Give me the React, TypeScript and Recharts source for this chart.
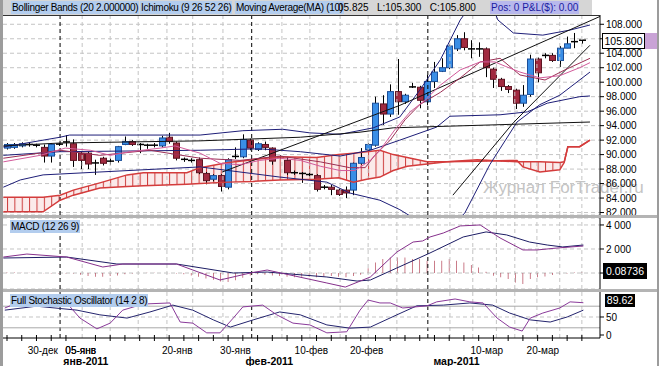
import React from "react";
import { Area, Bar, CartesianGrid, ComposedChart, Line, ReferenceLine, XAxis, YAxis } from "recharts";

const FONT = "'Liberation Sans', Arial, sans-serif";
const NAVY = "#1e1e78";
const GRID = "#c4c4c4";
const X_DOMAIN: [number, number] = [-0.543, 80.46];

// daily candles, index 0 .. 78
const OPEN = [
  90.9, 91.0, 91.2, 91.4, 91.3, 91.0, 89.8, 91.45, 91.7, 91.5,
  90.2, 90.2, 88.85, 89.5, 89.1, 89.2, 91.4, 91.8, 91.4, 91.3,
  91.3, 91.2, 92.4, 91.6, 89.35, 89.2, 89.3, 87.4, 86.6, 87.1,
  85.5, 89.7, 89.7, 92.0, 90.7, 91.4, 90.9, 89.7, 89.2, 87.5,
  87.4, 87.25, 87.1, 85.5, 85.5, 85.1, 85.1, 85.1, 88.8, 90.7,
  91.3, 97.0, 95.6, 98.7, 97.3, 99.3, 99.3, 97.3, 100.1, 101.5,
  102.0, 104.6, 106.0, 104.6, 104.6, 104.6, 101.8, 100.4, 99.4, 98.9,
  97.1, 98.3, 103.2, 103.7, 103.7, 103.0, 104.7, 105.6, 105.6,
];
const HIGH = [
  91.6, 91.6, 91.7, 91.6, 91.5, 91.4, 91.6, 91.6, 92.7, 92.1,
  90.4, 90.4, 89.3, 89.7, 89.5, 91.2, 92.5, 92.0, 91.6, 91.5,
  91.6, 92.6, 93.0, 91.8, 89.6, 89.5, 89.6, 87.6, 87.3, 87.3,
  89.5, 91.0, 92.8, 92.2, 91.7, 91.8, 91.0, 89.9, 89.7, 87.8,
  87.6, 87.5, 87.3, 85.8, 85.8, 85.3, 85.6, 88.9, 90.9, 91.6,
  98.0, 98.2, 99.7, 103.2, 98.4, 99.9, 99.5, 101.0, 102.8, 103.3,
  105.2, 106.5, 106.9, 105.8, 105.5, 104.8, 102.0, 100.6, 99.6, 99.1,
  99.6, 103.8, 103.4, 104.0, 104.0, 105.0, 106.3, 106.8, 105.825,
];
const LOW = [
  90.7, 90.8, 91.0, 91.1, 91.0, 88.9, 88.9, 91.2, 91.1, 88.3,
  88.0, 88.0, 87.2, 88.5, 88.6, 88.9, 91.3, 91.2, 90.2, 90.8,
  91.0, 91.0, 91.5, 89.2, 89.0, 88.9, 87.3, 85.9, 86.3, 84.9,
  85.2, 89.4, 89.5, 90.6, 90.5, 90.6, 88.6, 89.4, 87.2, 87.2,
  86.1, 87.0, 84.9, 85.2, 84.4, 84.3, 84.0, 84.4, 88.6, 90.4,
  91.1, 94.1, 95.2, 95.5, 97.0, 99.2, 96.4, 96.8, 99.2, 101.4,
  101.8, 104.3, 104.4, 103.3, 103.5, 100.7, 99.2, 98.8, 98.5, 96.3,
  96.6, 98.0, 100.0, 103.3, 102.8, 102.1, 104.7, 104.7, 105.3,
];
const CLOSE = [
  91.4, 91.4, 91.5, 91.35, 91.3, 89.8, 91.4, 91.4, 91.75, 89.2,
  89.2, 88.7, 88.8, 88.8, 89.05, 91.1, 91.8, 91.4, 91.4, 91.25,
  91.3, 92.3, 91.8, 89.5, 89.3, 89.2, 87.5, 86.4, 87.1, 85.6,
  89.3, 89.75, 92.1, 90.9, 91.5, 91.0, 89.1, 89.65, 87.5, 87.45,
  87.2, 87.2, 85.2, 85.5, 85.2, 84.5, 84.7, 88.8, 89.6, 91.4,
  97.1, 95.6, 98.7, 97.3, 98.2, 99.35, 97.5, 100.1, 101.4, 102.0,
  105.0, 106.0, 104.8, 104.6, 104.55, 102.0, 100.4, 99.4, 99.0, 97.1,
  98.2, 103.2, 101.3, 103.7, 103.0, 104.7, 105.3, 105.6, 105.8,
];

// overlay lines: [index, price]
const BB_UPPER: [number, number][] = [
  [-0.5, 91.05], [7.2, 92.4], [8.5, 92.7], [26.2, 92.7], [32, 93.3], [37.4, 93.5], [41.1, 93.0],
  [45.2, 92.8], [49.7, 93.7], [53.3, 95.2], [56, 98.9], [58.8, 103.1], [61.5, 108.6], [63.5, 111.4],
  [65.5, 111.4], [66.6, 108.6], [68.7, 106.8], [72.7, 106.5], [76.4, 107.2], [79.1, 107.9],
];
const BB_LOWER: [number, number][] = [
  [-0.5, 85.5], [1.8, 86.5], [4.9, 87.2], [12.6, 87.6], [26.2, 88.3], [37, 86.9], [43.4, 86.2],
  [46.5, 84.7], [50.6, 83.7], [53.3, 82.4], [56, 80.7], [60.8, 80.7], [62.1, 81.9], [65.5, 88.6],
  [69.2, 94.5], [72.3, 96.9], [75, 98.2], [79.1, 101.4],
];
const BB_MID: [number, number][] = [
  [-0.5, 89.9], [7.2, 90.4], [16.7, 90.5], [26.2, 90.6], [34.3, 90.8], [39.8, 90.4], [45.2, 89.8],
  [49.3, 90.6], [53.3, 92.0], [58.3, 93.8], [60.1, 95.3], [66.9, 95.5], [70.6, 95.9], [73.3, 97.1],
  [77.7, 98.0], [79.1, 98.1],
];
const KIJUN: [number, number][] = [
  [-0.5, 91.2], [7.2, 91.6], [26.2, 91.9], [39.8, 92.4], [47.9, 93.1], [52.4, 93.7], [79.1, 94.5],
];
const TREND_A: [number, number][] = [[29.2, 87.6], [53.3, 96.8], [80.5, 109.1]];
const TREND_B: [number, number][] = [[60.5, 84.4], [68.7, 94.4], [79.1, 105.1]];
const MA10: [number, number][] = [
  [-0.5, 89.0], [4.5, 89.9], [7.9, 90.9], [11.3, 90.6], [14, 89.9], [16.7, 90.4], [20.8, 90.9],
  [22.8, 91.2], [24.8, 90.6], [26.2, 90.2], [28.9, 88.8], [31.6, 88.6], [34.3, 89.2], [37, 89.5],
  [39.8, 89.2], [42.5, 88.4], [45.2, 87.8], [47.2, 87.8], [49.3, 89.2], [50.6, 90.6], [52.6, 93.4],
  [54.7, 95.9], [56.7, 97.5], [58.8, 99.6], [61.5, 101.7], [64.2, 102.8], [66.2, 102.8], [67.6, 102.2],
  [69.6, 101.4], [72.3, 100.6], [75, 100.9], [77.7, 102.0], [79.1, 102.7],
];
const TENKAN: [number, number][] = [
  [-0.5, 89.5], [7.2, 90.6], [12.6, 89.9], [19.4, 90.6], [26.2, 89.5], [31.6, 89.2], [37, 89.8],
  [42.5, 89.0], [46.5, 88.2], [48.6, 88.2], [49.9, 89.9], [52, 92.0], [54, 94.8], [56, 96.9],
  [58.8, 98.6], [61.5, 100.6], [64.2, 102.8], [66.9, 103.3], [69.6, 101.0], [73, 100.3], [75.7, 101.7],
  [79.1, 103.3],
];
// ichimoku cloud: [index, span A, span B]
const CLOUD: [number, number, number][] = [
  [-0.5, 84.1, 82.1], [4.9, 84.1, 82.1], [7.2, 84.4, 83.7], [9, 85.1, 84.4], [12.6, 86.1, 85.4],
  [16.3, 87.2, 85.6], [18.5, 87.5, 85.7], [24.4, 87.5, 85.9], [26.2, 88.2, 86.0], [30, 88.9, 86.2],
  [33.4, 89.3, 86.3], [37, 89.7, 86.5], [42, 89.6, 86.6], [45, 90.0, 86.8], [47, 90.2, 86.2],
  [48.8, 90.4, 86.6], [50.6, 90.6, 86.9], [52.4, 90.0, 87.8], [54.3, 89.6, 88.4], [57, 89.0, 88.7],
  [59.7, 89.0, 89.0], [63.8, 89.3, 89.1], [69.2, 89.0, 89.2], [70, 89.0, 88.3], [72.3, 89.0, 87.6],
  [75, 88.9, 87.9], [75.6, 89.0, 88.9], [76.1, 91.1, 91.1], [77.7, 91.1, 91.1], [79.1, 92.0, 92.0],
];

// MACD (12 26 9)
const MACD_HIST = [
  0.05, 0.05, 0.03, 0.02, 0, -0.02, -0.03, -0.03, -0.05, -0.05,
  -0.15, -0.25, -0.3, -0.3, -0.25, -0.2, -0.1, -0.05, 0, 0.02,
  0.02, 0, -0.02, -0.05, -0.1, -0.2, -0.3, -0.45, -0.55, -0.7,
  -0.75, -0.6, -0.4, -0.2, -0.1, -0.15, -0.2, -0.25, -0.3, -0.35,
  -0.3, -0.3, -0.35, -0.3, -0.25, -0.3, -0.35, -0.25, -0.15, 0.4,
  0.88, 1.17, 1.3, 1.3, 1.3, 1.17, 1.17, 1.03, 1.03, 1.03,
  1.17, 1.03, 0.88, 0.67, 0.47, 0.1, -0.22, -0.36, -0.5, -0.78,
  -0.92, -0.5, -0.36, -0.28, -0.17, -0.08, -0.03, 0.05, 0.08736,
];
const MACD_LINE: [number, number][] = [
  [-0.5, 1.33], [2.7, 1.58], [8.1, 1.33], [13, 0.5], [15.7, 0.75], [23, 0.75], [28.9, -0.58],
  [33, 0], [35.3, 0.25], [43.4, -0.83], [45.9, -1.17], [49.3, -0.33], [52.9, 1.75], [55.1, 2.58],
  [56.4, 2.67], [57.4, 3.0], [59.2, 3.33], [61.5, 3.92], [64.2, 4.0], [66.9, 2.92], [70, 1.92],
  [71.9, 1.92], [74.6, 2.08], [78.2, 2.25],
];
const MACD_SIGNAL: [number, number][] = [
  [-0.5, 1.25], [8.1, 1.33], [14.9, 0.75], [23, 0.75], [30.7, 0], [35.3, 0.08], [43.4, -0.33],
  [47.5, -0.67], [49.3, -0.58], [52.9, 0.42], [57.4, 1.67], [61.9, 3.0], [65, 3.42], [67.8, 3.17],
  [70.9, 2.58], [73.3, 2.33], [75.4, 2.17], [78.2, 2.33],
];

// Full Stochastic (14 2 8)
const STOCH_K: [number, number][] = [
  [-0.3, 75], [1.5, 90], [5, 92], [8.1, 89], [9.9, 47], [12.2, 17], [14, 33], [15.7, 69], [18.5, 86],
  [22.1, 89], [23.5, 36], [25.2, 33], [27.1, 6], [28.9, 6], [30.7, 47], [32, 78], [34.7, 83],
  [36.6, 56], [38.8, 33], [41.1, 28], [43.4, 6], [46.1, 9], [47.9, 69], [49, 97], [50.6, 89],
  [52, 89], [53.7, 75], [57, 81], [58.3, 92], [60.8, 100], [62.8, 92], [64.6, 89], [66.5, 47],
  [68.2, 22], [69.9, 11], [71, 47], [72.7, 61], [75, 75], [76.4, 92], [78.2, 89.62],
];
const STOCH_D: [number, number][] = [
  [-0.3, 69], [4, 80], [9.5, 69], [12.6, 56], [16.3, 47], [19.4, 64], [22.5, 83], [25.2, 69],
  [28, 42], [30.3, 22], [33.4, 42], [37, 64], [39.8, 56], [43.4, 28], [46.5, 19], [49.3, 22],
  [52.9, 56], [55.6, 81], [59.2, 83], [62.8, 89], [65.9, 83], [68.2, 61], [71, 42], [73.7, 36],
  [76, 50], [78.2, 69],
];

const PRICE_TICKS = [82, 84, 86, 88, 90, 92, 94, 96, 98, 100, 102, 104, 106, 108];
const MACD_TICKS = [0, 2, 4];
const STOCH_TICKS = [0, 50];
const DATE_LABELS: [number, string][] = [
  [4.85, "30-дек"], [10, "05-янв"], [23.1, "20-янв"], [31, "30-янв"],
  [41.3, "10-фев"], [48.8, "20-фев"], [65.1, "10-мар"], [72.7, "20-мар"],
];
const MONTH_LABELS: [number, string][] = [[10.7, "янв-2011"], [35.6, "фев-2011"], [61, "мар-2011"]];
const MONTH_STARTS = [7.2, 33.2, 57.1];
const GRID_X = [10.2, 14, 17.8, 21.7, 25.2, 29.3, 37.3, 41.1, 45.2, 49, 52.9, 60.1, 63.2, 66.4, 68.9, 71.9, 75, 78];
const MINOR_TICKS = [
  0, 2, 4, 6, 8, 10, 12, 14, 16, 18, 20, 22, 24, 26, 28, 30, 32, 34, 36, 38,
  40, 42, 44, 46, 48, 50, 52, 54, 56, 58, 60, 62, 64, 66, 68, 70, 72, 74, 76, 78,
];

const pts = (arr: [number, number][]) => arr.map(([i, v]) => ({ i, v }));
const candles = OPEN.map((o, i) => ({ i, o, h: HIGH[i], l: LOW[i], c: CLOSE[i], range: [LOW[i], HIGH[i]] }));
const cloud = CLOUD.map(([i, a, b]) => ({ i, a, b, ab: [Math.min(a, b), Math.max(a, b)] }));
const hist = MACD_HIST.map((h, i) => ({ i, h }));

const AXIS_TICK = { fontSize: 10, fill: "#000", fontFamily: FONT };

function Candle(props: any) {
  const { x, y, width, height, payload } = props;
  if (!payload) return null;
  const top = Math.min(y, y + height);
  const bot = Math.max(y, y + height);
  const span = payload.h - payload.l;
  const k = span > 0 ? (bot - top) / span : 0;
  const py = (v: number) => top + (payload.h - v) * k;
  const cx = Math.round(x + width / 2) + 0.5;
  const up = payload.c >= payload.o;
  const y1 = py(Math.max(payload.o, payload.c));
  const y2 = py(Math.min(payload.o, payload.c));
  const doji = y2 - y1 < 1.5;
  return (
    <g>
      <line x1={cx} x2={cx} y1={top} y2={bot} stroke="#000" strokeWidth={1} />
      {doji ? (
        <line x1={cx - 3.5} x2={cx + 3.5} y1={y1} y2={y1} stroke="#000" strokeWidth={1.5} />
      ) : (
        <rect
          x={cx - 3}
          y={y1}
          width={6}
          height={y2 - y1}
          fill={up ? "#3a8ee6" : "#a12a40"}
          stroke={up ? "#1c4f99" : "#5e1422"}
          strokeWidth={1}
        />
      )}
    </g>
  );
}

function vGrid() {
  return [
    ...GRID_X.map((g) => (
      <ReferenceLine key={`g${g}`} x={g} stroke={GRID} strokeDasharray="4 3" />
    )),
    ...MONTH_STARTS.map((m) => (
      <ReferenceLine key={`m${m}`} x={m} stroke="#000" strokeDasharray="4 3" />
    )),
  ];
}

function ln(data: [number, number][], color: string, width = 1) {
  return (
    <Line
      data={pts(data)}
      dataKey="v"
      type="linear"
      stroke={color}
      strokeWidth={width}
      dot={false}
      activeDot={false}
      isAnimationActive={false}
    />
  );
}

function MainPanel() {
  return (
    <ComposedChart width={659} height={200} data={candles} margin={{ top: 0, right: 0, bottom: 0, left: 3 }}>
      <defs>
        <pattern id="hatch" patternUnits="userSpaceOnUse" x={7} y={0} width={7.37} height={10}>
          <rect width={7.37} height={10} fill="#fbeaea" />
          <line x1={0.5} x2={0.5} y1={0} y2={10} stroke="#cc3b3b" strokeWidth={1} />
        </pattern>
      </defs>
      <CartesianGrid vertical={false} stroke={GRID} strokeDasharray="4 3" />
      {vGrid()}
      <XAxis type="number" dataKey="i" domain={X_DOMAIN} allowDataOverflow hide />
      <YAxis
        orientation="right"
        width={59}
        domain={[81.66, 109.28]}
        allowDataOverflow
        ticks={PRICE_TICKS}
        interval={0}
        tick={AXIS_TICK}
        tickFormatter={(v: number) => v.toFixed(3)}
        tickSize={4}
        axisLine={{ stroke: "#000" }}
        tickLine={{ stroke: "#000" }}
      />
      <Area data={cloud} dataKey="ab" type="linear" stroke="none" fill="url(#hatch)" fillOpacity={1} isAnimationActive={false} />
      <Line data={cloud} dataKey="a" type="linear" stroke="#d43c3c" strokeWidth={1.5} dot={false} isAnimationActive={false} />
      <Line data={cloud} dataKey="b" type="linear" stroke="#d43c3c" strokeWidth={1.5} dot={false} isAnimationActive={false} />
      {ln(BB_UPPER, NAVY)}
      {ln(BB_LOWER, NAVY)}
      {ln(BB_MID, NAVY)}
      {ln(KIJUN, "#111")}
      {ln(TREND_A, "#111")}
      {ln(TREND_B, "#111")}
      {ln(TENKAN, "#9c2f55")}
      {ln(MA10, "#d25a9a")}
      <Bar dataKey="range" barSize={6} shape={<Candle />} isAnimationActive={false} />
    </ComposedChart>
  );
}

function MacdPanel() {
  return (
    <ComposedChart width={659} height={71} data={hist} margin={{ top: 0, right: 0, bottom: 0, left: 3 }}>
      <CartesianGrid vertical={false} stroke={GRID} strokeDasharray="4 3" />
      {vGrid()}
      <XAxis type="number" dataKey="i" domain={X_DOMAIN} allowDataOverflow hide />
      <YAxis
        orientation="right"
        width={59}
        domain={[-1.33, 4.58]}
        allowDataOverflow
        ticks={MACD_TICKS}
        interval={0}
        tick={AXIS_TICK}
        tickFormatter={(v: number) => (v === 0 ? "" : `${v} 000`)}
        tickSize={4}
        axisLine={{ stroke: "#000" }}
        tickLine={{ stroke: "#000" }}
      />
      <Bar dataKey="h" barSize={1} fill="#b03a4e" isAnimationActive={false} />
      {ln(MACD_SIGNAL, "#1c1c64")}
      {ln(MACD_LINE, "#86308c")}
    </ComposedChart>
  );
}

function DateTick(props: any) {
  const { x, y, payload } = props;
  const v = payload.value;
  const d = DATE_LABELS.find((t) => t[0] === v);
  const m = MONTH_LABELS.find((t) => t[0] === v);
  if (d) {
    return (
      <text x={x} y={y + 8} textAnchor="middle" fontSize={10} fontFamily={FONT} fill="#000">
        {d[1]}
      </text>
    );
  }
  if (m) {
    return (
      <text x={x} y={y + 19} textAnchor="middle" fontSize={10.5} fontWeight="bold" fontFamily={FONT} fill="#000">
        {m[1]}
      </text>
    );
  }
  return <line x1={x} x2={x} y1={y - 11} y2={y - 5} stroke="#000" />;
}

function StochPanel() {
  const ticks = [...MINOR_TICKS, ...DATE_LABELS.map((d) => d[0]), ...MONTH_LABELS.map((m) => m[0])];
  return (
    <ComposedChart width={659} height={74} margin={{ top: 0, right: 0, bottom: 0, left: 3 }}>
      {vGrid()}
      <ReferenceLine y={80} stroke="#a8a8a8" />
      <ReferenceLine y={20} stroke="#a8a8a8" />
      <ReferenceLine y={50} stroke={GRID} strokeDasharray="4 3" />
      <XAxis
        type="number"
        dataKey="i"
        domain={X_DOMAIN}
        allowDataOverflow
        ticks={ticks}
        interval={0}
        height={28}
        tick={<DateTick />}
        tickLine={false}
        axisLine={{ stroke: "#000" }}
      />
      <YAxis
        orientation="right"
        width={59}
        domain={[-8.3, 119.4]}
        allowDataOverflow
        ticks={STOCH_TICKS}
        interval={0}
        tick={AXIS_TICK}
        tickSize={4}
        axisLine={{ stroke: "#000" }}
        tickLine={{ stroke: "#000" }}
      />
      {ln(STOCH_D, "#24246e")}
      {ln(STOCH_K, "#8a3a9a")}
    </ComposedChart>
  );
}

const tag: React.CSSProperties = {
  position: "absolute", top: 1, height: 13, lineHeight: "13px", fontSize: 10,
  letterSpacing: -0.3, padding: "0 1px", whiteSpace: "nowrap",
};

export default function App() {
  return (
    <div style={{ position: "relative", width: 659, height: 366, background: "#fff", fontFamily: FONT, overflow: "hidden" }}>
      <style>{"body{margin:0}"}</style>
      {/* header strip */}
      <div style={{ position: "absolute", left: 0, top: 0, width: 592, height: 15, background: "#d6d6d6" }} />
      <div style={{ ...tag, left: 11, background: "#b3cdee" }}>Bollinger Bands (20 2.000000)</div>
      <div style={{ ...tag, left: 140, background: "#b3cdee" }}>Ichimoku (9 26 52 26)</div>
      <div style={{ ...tag, left: 235, background: "#b3cdee" }}>Moving Average(MA) (10)</div>
      <div style={{ ...tag, left: 337, letterSpacing: 0 }}>05.825&nbsp;&nbsp; L:105.300&nbsp;&nbsp; C:105.800</div>
      <div style={{ ...tag, left: 490, background: "#b8b8ec", color: "#1a1aa0", letterSpacing: 0 }}>Pos: 0 P&amp;L($): 0.00</div>

      {/* watermark */}
      <div style={{ position: "absolute", left: 483, top: 178, fontSize: 17, color: "#c4c4c4", whiteSpace: "nowrap" }}>
        Журнал ForTrader.ru
      </div>

      <div style={{ position: "absolute", left: 0, top: 15 }}>
        <MainPanel />
      </div>
      <div style={{ position: "absolute", left: 0, top: 15, width: 600, height: 1, background: "#333" }} />
      <div style={{ position: "absolute", left: 0, top: 215, width: 659, height: 3, background: "#b4b4b4" }} />
      <div style={{ position: "absolute", left: 0, top: 218 }}>
        <MacdPanel />
      </div>
      <div style={{ position: "absolute", left: 0, top: 289, width: 659, height: 3, background: "#b4b4b4" }} />
      <div style={{ position: "absolute", left: 0, top: 292 }}>
        <StochPanel />
      </div>

      {/* panel titles */}
      <div style={{ ...tag, left: 10, top: 220, background: "#b3cdee" }}>MACD (12 26 9)</div>
      <div style={{ ...tag, left: 10, top: 294, background: "#b3cdee" }}>Full Stochastic Oscillator (14 2 8)</div>

      {/* last value markers */}
      <div style={{ position: "absolute", left: 602, top: 33, width: 41, height: 14, border: "1px solid #000", background: "#fff", fontSize: 10.5, lineHeight: "14px", textAlign: "center" }}>105.800</div>
      <div style={{ position: "absolute", left: 645, top: 33, width: 14, height: 16, background: "#c9a3d6" }} />
      <div style={{ position: "absolute", left: 603, top: 263, width: 44, height: 16, background: "#000", color: "#fff", fontSize: 10.5, lineHeight: "16px", textAlign: "center" }}>0.08736</div>
      <div style={{ position: "absolute", left: 605, top: 294, width: 30, height: 13, background: "#000", color: "#fff", fontSize: 10.5, lineHeight: "13px", textAlign: "center" }}>89.62</div>

      {/* frame */}
      <div style={{ position: "absolute", left: 0, top: 0, width: 3, height: 366, background: "#9c9c9c" }} />
      <div style={{ position: "absolute", left: 657, top: 0, width: 2, height: 366, background: "#9c9c9c" }} />
    </div>
  );
}
